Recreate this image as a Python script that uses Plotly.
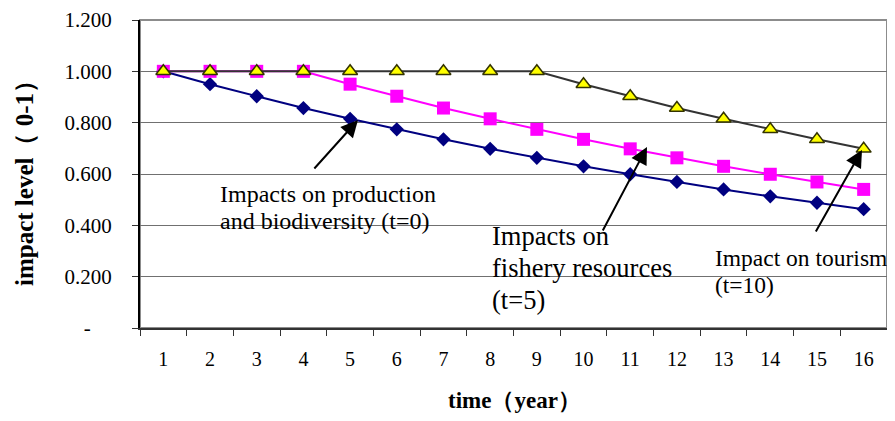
import plotly.graph_objects as go

years = [str(i) for i in range(1, 17)]
production = [1.000, 0.950, 0.903, 0.857, 0.815, 0.774, 0.735, 0.698,
              0.663, 0.630, 0.599, 0.569, 0.540, 0.513, 0.488, 0.463]
fishery = [1.000, 1.000, 1.000, 1.000, 0.950, 0.903, 0.857, 0.815,
           0.774, 0.735, 0.698, 0.663, 0.630, 0.599, 0.569, 0.540]
tourism = [1.000, 1.000, 1.000, 1.000, 1.000, 1.000, 1.000, 1.000,
           1.000, 0.950, 0.903, 0.857, 0.815, 0.774, 0.735, 0.698]
y_tickvals = [0, 0.2, 0.4, 0.6, 0.8, 1.0, 1.2]
y_ticktext = ["-\u00a0\u00a0\u00a0\u00a0", "0.200", "0.400", "0.600", "0.800", "1.000", "1.200"]

FONT = "Liberation Serif, Times New Roman, serif"

fig = go.Figure()
fig.add_trace(go.Scatter(
    x=years, y=production, mode="lines+markers", name="Impacts on production and biodiversity",
    line=dict(color="#000080", width=2),
    marker=dict(symbol="diamond", size=11, color="#000080")))
fig.add_trace(go.Scatter(
    x=years, y=fishery, mode="lines+markers", name="Impacts on fishery resources",
    line=dict(color="#FF00FF", width=2),
    marker=dict(symbol="square", size=13, color="#FF00FF")))
fig.add_trace(go.Scatter(
    x=years, y=tourism, mode="lines+markers", name="Impact on tourism",
    line=dict(color="#333333", width=2),
    marker=dict(symbol="triangle-up", size=13, color="#FFFF00",
                line=dict(color="#333300", width=1.5))))

# page has an 8px body margin; layout in page pixel coordinates
OFF = 8
PL, PR, PT, PB = 140, 887, 20, 328   # plot area in page pixels
W, H = 895 - OFF, 421 - OFF
L, T = PL - OFF, PT - OFF
R = W - (PR - OFF)
B = H - (PB - OFF)
pw, ph = PR - PL, PB - PT

def px(xp):
    return (xp - PL) / pw

def py(yp):
    return (PB - yp) / ph

shapes = []
# white boxes behind text (hide gridlines)
for (x0, x1, y0, y1) in [(200, 475, 170, 240), (475, 697, 185, 320), (697, 886, 235, 320)]:
    shapes.append(dict(type="rect", xref="paper", yref="paper", layer="between",
                       x0=px(x0), x1=px(x1), y0=py(y1), y1=py(y0),
                       fillcolor="white", line=dict(width=0)))
# plot border
shapes.append(dict(type="rect", xref="paper", yref="paper", layer="between",
                   x0=0, x1=1, y0=0, y1=1, line=dict(color="#8c8c8c", width=2)))

annotations = []
# (text, left x, baseline y, font size)
lines = [
    ("Impacts on production", 219, 200.7, 24),
    ("and biodiversity (t=0)", 219, 228, 24),
    ("Impacts on", 491, 243, 26.5),
    ("fishery resources", 491, 275, 26.5),
    ("(t=5)", 491, 307, 26.5),
    ("Impact on tourism", 714, 265, 23.5),
    ("(t=10)", 714, 292, 23.5),
]
for txt, xl, yb, fs in lines:
    annotations.append(dict(text=txt, xref="paper", yref="paper", x=px(xl), y=py(yb - 0.28 * fs),
                            xanchor="left", yanchor="middle", align="left", showarrow=False,
                            borderpad=0,
                            font=dict(family=FONT, size=fs, color="black")))
arrows = [((358, 120), (-45, 50)), ((647, 147), (-45, 85)), ((862, 150), (-47, 83))]
for (hx, hy), (dx, dy) in arrows:
    annotations.append(dict(text="", xref="paper", yref="paper", x=px(hx), y=py(hy),
                            ax=dx, ay=dy, showarrow=True, arrowhead=2, arrowsize=1.7,
                            arrowwidth=2, arrowcolor="black", standoff=0))
# axis titles
annotations.append(dict(text="<b>time（year）</b>", xref="paper", yref="paper",
                        x=px(514), y=py(400), xanchor="center", yanchor="middle", showarrow=False,
                        font=dict(family=FONT, size=23, color="black")))
annotations.append(dict(text="<b>impact level（ 0-1）</b>", xref="paper", yref="paper",
                        x=px(24), y=py(177), xanchor="center", yanchor="middle", showarrow=False,
                        textangle=-90, font=dict(family=FONT, size=25, color="black")))

fig.update_layout(
    width=W, height=H, autosize=False,
    margin=dict(l=L, r=R, t=T, b=B, pad=0),
    paper_bgcolor="white", plot_bgcolor="white",
    showlegend=False,
    font=dict(family=FONT, color="black"),
    shapes=shapes, annotations=annotations,
    xaxis=dict(type="category", categoryorder="array", categoryarray=years,
               range=[-0.5, 15.5], tickson="boundaries", ticks="outside", ticklen=6,
               tickwidth=1, tickcolor="#333333", showgrid=False, zeroline=False,
               showline=True, linecolor="#333333", linewidth=2, automargin=False,
               tickfont=dict(family=FONT, size=20, color="black"), ticklabelstandoff=12),
    yaxis=dict(range=[0, 1.2], tickvals=y_tickvals, ticktext=y_ticktext,
               ticks="outside", ticklen=6, tickwidth=1, tickcolor="#333333",
               showgrid=True, gridcolor="#707070", gridwidth=1, zeroline=False,
               showline=True, linecolor="black", linewidth=2, automargin=False,
               ticklabeloverflow="allow",
               tickfont=dict(family=FONT, size=21, color="black"), ticklabelstandoff=16),
)

fig.write_html("out.html")
